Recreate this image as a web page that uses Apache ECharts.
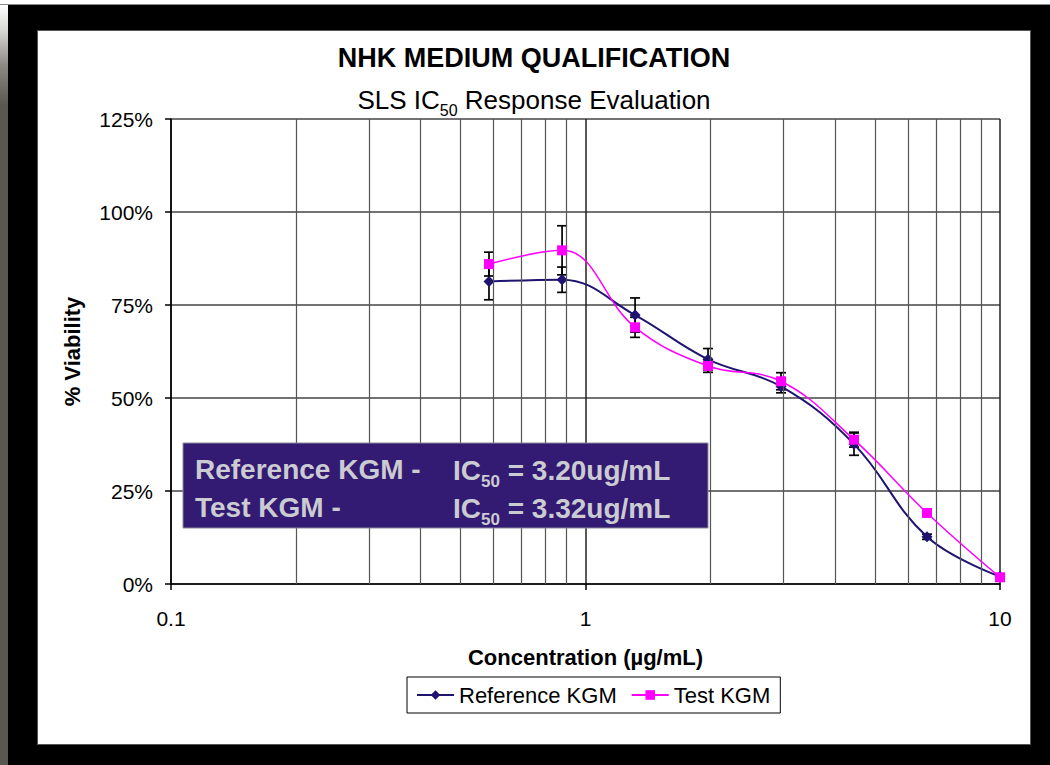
<!DOCTYPE html>
<html>
<head>
<meta charset="utf-8">
<script src="https://cdn.jsdelivr.net/npm/echarts@6/dist/echarts.min.js"></script>
<style>
  html, body { margin: 0; padding: 0; width: 1050px; height: 765px; overflow: hidden; background: #000; }
  #topstrip { position: absolute; left: 0; top: 0; width: 1050px; height: 4px; background: #fff; border-bottom: 1px solid #8a8a8a; }
  #leftstrip { position: absolute; left: 0; top: 5px; width: 8px; height: 760px;
    background: linear-gradient(to bottom, #ffffff 0px, #d8d8d6 25px, #8d8a86 60px, #5a5651 100px, #5a5651 760px); }
  #panel { position: absolute; left: 37px; top: 30px; width: 992px; height: 713px; background: #fff; border: 1px solid #555; box-sizing: content-box; }
  #chart { position: absolute; left: 0; top: 0; width: 1050px; height: 765px; }
</style>
</head>
<body>
<div id="topstrip"></div>
<div id="leftstrip"></div>
<div id="panel"></div>
<div id="chart"></div>
<script>
// ---- data ----
const concentrations = [0.585, 0.878, 1.317, 1.975, 2.963, 4.444, 6.667, 10];
const referenceViability = [81.3, 81.8, 72.3, 60.4, 53.1, 37.6, 12.7, 2.0];
const referenceError = [4.9, 3.4, 4.6, 2.9, 1.7, 3.0, 0.7, 0.3];
const testViability = [86.0, 89.7, 69.0, 58.6, 54.5, 38.8, 19.1, 1.8];
const testError = [3.2, 6.6, 2.7, 1.7, 2.3, 2.0, 0.5, 0.3];
const minorGridValues = [0.2, 0.3, 0.4, 0.5, 0.6, 0.7, 0.8, 0.9, 2, 3, 4, 5, 6, 7, 8, 9];
const seriesNames = ['Reference KGM', 'Test KGM'];
const titleText = 'NHK MEDIUM QUALIFICATION';
const subtitleText = '{n|SLS IC}{sub|50}{n| Response Evaluation}';
const boxLines = [
  ['Reference KGM -', '{n|IC}{sub|50}{n| = 3.20ug/mL}'],
  ['Test KGM -', '{n|IC}{sub|50}{n| = 3.32ug/mL}']
];

const FONT = "'Liberation Sans', Arial, sans-serif";
const refColor = '#1f1470';
const testColor = '#ff00ff';

const pts = (ys) => concentrations.map((x, i) => [x, ys[i]]);
const bars = (ys, es) => concentrations.map((x, i) => [x, ys[i] - es[i], ys[i] + es[i]]);

function errorBarRender(params, api) {
  const x = api.value(0), lo = api.value(1), hi = api.value(2);
  const pLo = api.coord([x, lo]);
  const pHi = api.coord([x, hi]);
  const w = 5;
  const st = { stroke: '#000', lineWidth: 1.7 };
  return {
    type: 'group',
    children: [
      { type: 'line', shape: { x1: pHi[0], y1: pHi[1], x2: pLo[0], y2: pLo[1] }, style: st },
      { type: 'line', shape: { x1: pHi[0] - w, y1: pHi[1], x2: pHi[0] + w, y2: pHi[1] }, style: st },
      { type: 'line', shape: { x1: pLo[0] - w, y1: pLo[1], x2: pLo[0] + w, y2: pLo[1] }, style: st }
    ]
  };
}

function richStyles(size, subSize, weight, color) {
  const lh = Math.round(size * 1.4);
  return {
    n: { fontSize: size, fontFamily: FONT, fontWeight: weight, color: color, lineHeight: lh, verticalAlign: 'middle' },
    sub: { fontSize: subSize, fontFamily: FONT, fontWeight: weight, color: color, lineHeight: lh, verticalAlign: 'bottom' }
  };
}

const chart = echarts.init(document.getElementById('chart'), null, { renderer: 'svg' });

const boxTextColor = '#cbcbd2';

chart.setOption({
  backgroundColor: 'transparent',
  animation: false,
  textStyle: { fontFamily: FONT, color: '#000' },
  grid: { left: 171, top: 119, width: 829, height: 465, containLabel: false },
  xAxis: {
    type: 'log', logBase: 10, min: 0.1, max: 10,
    name: 'Concentration (µg/mL)', nameLocation: 'middle', nameGap: 62,
    nameTextStyle: { fontSize: 22, fontWeight: 'bold', fontFamily: FONT, color: '#000' },
    axisLine: { show: true, onZero: false, lineStyle: { color: '#000', width: 1.5 } },
    axisTick: { show: true, inside: false, length: 6, lineStyle: { color: '#000', width: 1.5 } },
    axisLabel: { fontSize: 21, color: '#000', margin: 24, fontFamily: FONT },
    splitLine: { show: true, lineStyle: { color: '#222', width: 1.5 } },
    minorTick: { show: false }, minorSplitLine: { show: false }
  },
  yAxis: {
    type: 'value', min: 0, max: 125, interval: 25,
    name: '% Viability', nameLocation: 'middle', nameGap: 88, nameRotate: 90,
    nameTextStyle: { fontSize: 22, fontWeight: 'bold', fontFamily: FONT, color: '#000' },
    axisLine: { show: true, lineStyle: { color: '#000', width: 1.5 } },
    axisTick: { show: true, inside: false, length: 6, lineStyle: { color: '#000', width: 1.5 } },
    axisLabel: { fontSize: 21, color: '#000', margin: 18, formatter: '{value}%', fontFamily: FONT },
    splitLine: { show: true, lineStyle: { color: '#444', width: 1.5 } }
  },
  legend: {
    data: seriesNames,
    left: 407, top: 677,
    orient: 'horizontal',
    padding: [7, 10, 7, 9],
    itemGap: 14, itemWidth: 37, itemHeight: 12,
    borderColor: '#000', borderWidth: 1, borderRadius: 0,
    backgroundColor: '#fff',
    textStyle: { fontSize: 22, color: '#000', fontFamily: FONT }
  },
  graphic: [
    { type: 'text', x: 534, y: 58, z: 10,
      style: { text: titleText, textAlign: 'center', textVerticalAlign: 'middle',
        fontSize: 27, fontWeight: 'bold', fontFamily: FONT, fill: '#000' } },
    { type: 'text', x: 534, y: 100, z: 10,
      style: { text: subtitleText, textAlign: 'center', textVerticalAlign: 'middle',
        fontSize: 26, fontFamily: FONT, fill: '#000', rich: richStyles(26, 16, 'normal', '#000') } },
    { type: 'rect', z: 20, shape: { x: 183, y: 443, width: 525, height: 85 },
      style: { fill: '#331a73', stroke: '#8a8a9a', lineWidth: 1 } },
    { type: 'text', z: 21, x: 195, y: 469,
      style: { text: boxLines[0][0], textVerticalAlign: 'middle', fontSize: 28, fontWeight: 'bold', fontFamily: FONT, fill: boxTextColor } },
    { type: 'text', z: 21, x: 453, y: 470,
      style: { text: boxLines[0][1], textVerticalAlign: 'middle', fontSize: 28, fontWeight: 'bold', fontFamily: FONT, fill: boxTextColor, rich: richStyles(28, 17, 'bold', boxTextColor) } },
    { type: 'text', z: 21, x: 195, y: 507,
      style: { text: boxLines[1][0], textVerticalAlign: 'middle', fontSize: 28, fontWeight: 'bold', fontFamily: FONT, fill: boxTextColor } },
    { type: 'text', z: 21, x: 453, y: 508,
      style: { text: boxLines[1][1], textVerticalAlign: 'middle', fontSize: 28, fontWeight: 'bold', fontFamily: FONT, fill: boxTextColor, rich: richStyles(28, 17, 'bold', boxTextColor) } }
  ],
  series: [
    {
      name: 'minor-grid', type: 'line', data: [], silent: true, z: 0,
      markLine: {
        silent: true, symbol: ['none', 'none'], animation: false,
        label: { show: false },
        lineStyle: { color: '#555', width: 1.2, type: 'solid' },
        emphasis: { disabled: true },
        data: minorGridValues.map(v => ({ xAxis: v }))
      }
    },
    {
      name: 'ref-err', type: 'custom', renderItem: errorBarRender, z: 2,
      encode: { x: 0, y: [1, 2] }, data: bars(referenceViability, referenceError), silent: true
    },
    {
      name: 'test-err', type: 'custom', renderItem: errorBarRender, z: 2,
      encode: { x: 0, y: [1, 2] }, data: bars(testViability, testError), silent: true
    },
    {
      name: seriesNames[0], type: 'line', data: pts(referenceViability), z: 4,
      smooth: 0.4, symbol: 'diamond', symbolSize: 11, showAllSymbol: true,
      itemStyle: { color: refColor }, lineStyle: { color: refColor, width: 2 }
    },
    {
      name: seriesNames[1], type: 'line', data: pts(testViability), z: 5,
      smooth: 0.4, symbol: 'rect', symbolSize: 10, showAllSymbol: true,
      itemStyle: { color: testColor }, lineStyle: { color: testColor, width: 1.5 }
    }
  ]
});
</script>
</body>
</html>
